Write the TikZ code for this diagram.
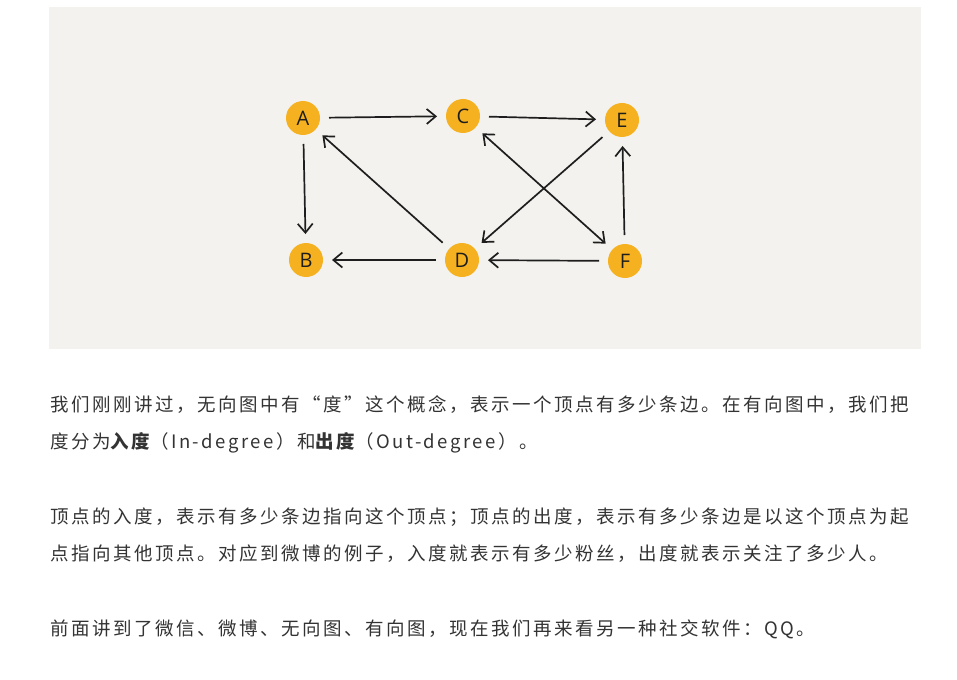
\documentclass[tikz,border=0pt]{standalone}
\usepackage{fontspec}
\setmainfont{Open Sans}
\newfontfamily\cjkfont{Noto Sans CJK SC}[LetterSpace=13.5]
\usetikzlibrary{arrows.meta}
\definecolor{paper_gray}{HTML}{F3F2EE}
\definecolor{vertex_orange}{HTML}{F5B120}
\definecolor{ink_dark}{HTML}{1E1E1E}
\definecolor{text_gray}{HTML}{333333}

\begin{document}
\begin{tikzpicture}[x=1pt, y=-1pt,
    vertex_node/.style={circle, fill=vertex_orange, minimum size=34pt, inner sep=0pt,
      outer sep=9pt, font=\fontsize{20}{20}\selectfont, text=ink_dark},
    edge_line/.style={-{Straight Barb[length=9pt, width=15pt]}, line width=1.7pt, draw=ink_dark},
    body_text/.style={anchor=base west, inner sep=0pt,
      font=\cjkfont\fontsize{18.5}{18.5}\selectfont, text=text_gray},
    ]
    \useasboundingbox (0,0) rectangle (957,679);

    % --- Gray panel behind the graph ---
    \fill[paper_gray] (49,7) rectangle (921,349);

    % --- Vertices ---
    \node[vertex_node] (A) at (303,118) {A};
    \node[vertex_node] (C) at (463,116) {C};
    \node[vertex_node] (E) at (622,120) {E};
    \node[vertex_node] (B) at (306,260) {B};
    \node[vertex_node] (D) at (462,260) {D};
    \node[vertex_node] (F) at (625,261) {F};

    % --- Directed edges ---
    \draw[edge_line] (A) -- (C);
    \draw[edge_line] (C) -- (E);
    \draw[edge_line] (A) -- (B);
    \draw[edge_line] (D) -- (A);
    \draw[edge_line] (E) -- (D);
    \draw[edge_line, {Straight Barb[length=9pt, width=15pt]}-{Straight Barb[length=9pt, width=15pt]}] (C) -- (F);
    \draw[edge_line] (F) -- (E);
    \draw[edge_line] (F) -- (D);
    \draw[edge_line] (D) -- (B);

    % --- Paragraphs below ---
    \node[body_text] (line_one) at (50,411)
      {我们刚刚讲过，无向图中有“度”这个概念，表示一个顶点有多少条边。在有向图中，我们把};
    \node[body_text] (line_two) at (50,448)
      {度分为{\bfseries 入度}（In-degree）和{\bfseries 出度}（Out-degree）。};
    \node[body_text] (line_three) at (50,523)
      {顶点的入度，表示有多少条边指向这个顶点；顶点的出度，表示有多少条边是以这个顶点为起};
    \node[body_text] (line_four) at (50,560)
      {点指向其他顶点。对应到微博的例子，入度就表示有多少粉丝，出度就表示关注了多少人。};
    \node[body_text] (line_five) at (50,635)
      {前面讲到了微信、微博、无向图、有向图，现在我们再来看另一种社交软件：QQ。};

  \end{tikzpicture}
\end{document}
